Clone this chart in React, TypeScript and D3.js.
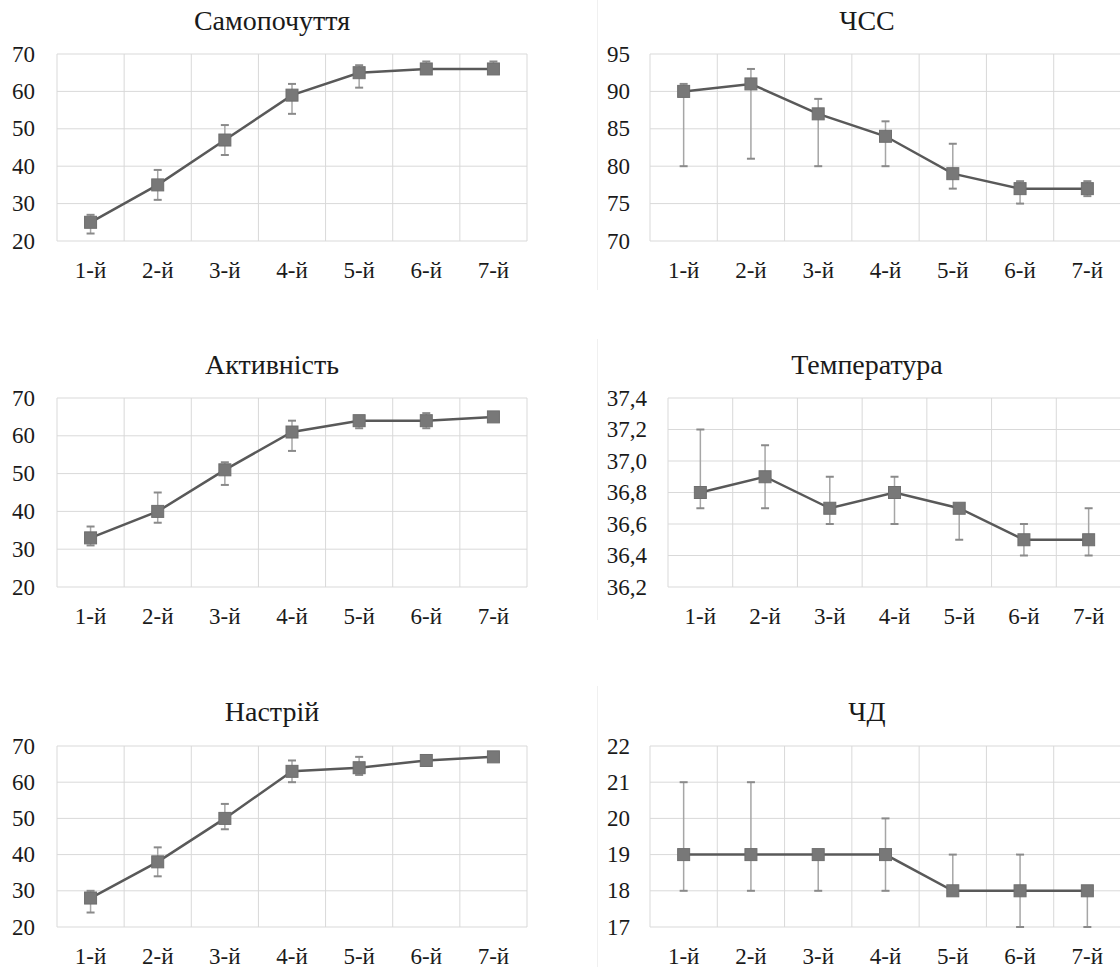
import React from "react";
import * as d3 from "d3";

const categories = ["1-й", "2-й", "3-й", "4-й", "5-й", "6-й", "7-й"];

const samTitle = "Самопочуття";
const samValues = [25, 35, 47, 59, 65, 66, 66];
const samHigh = [27, 39, 51, 62, 67, 68, 68];
const samLow = [22, 31, 43, 54, 61, 65, 65];
const samTicks = [20, 30, 40, 50, 60, 70];

const aktTitle = "Активність";
const aktValues = [33, 40, 51, 61, 64, 64, 65];
const aktHigh = [36, 45, 53, 64, 65, 66, 65];
const aktLow = [31, 37, 47, 56, 62, 62, 65];
const aktTicks = [20, 30, 40, 50, 60, 70];

const nasTitle = "Настрій";
const nasValues = [28, 38, 50, 63, 64, 66, 67];
const nasHigh = [30, 42, 54, 66, 67, 66, 67];
const nasLow = [24, 34, 47, 60, 62, 65, 67];
const nasTicks = [20, 30, 40, 50, 60, 70];

const chssTitle = "ЧСС";
const chssValues = [90, 91, 87, 84, 79, 77, 77];
const chssHigh = [91, 93, 89, 86, 83, 78, 78];
const chssLow = [80, 81, 80, 80, 77, 75, 76];
const chssTicks = [70, 75, 80, 85, 90, 95];

const tempTitle = "Температура";
const tempValues = [36.8, 36.9, 36.7, 36.8, 36.7, 36.5, 36.5];
const tempHigh = [37.2, 37.1, 36.9, 36.9, 36.7, 36.6, 36.7];
const tempLow = [36.7, 36.7, 36.6, 36.6, 36.5, 36.4, 36.4];
const tempTicks = [36.2, 36.4, 36.6, 36.8, 37.0, 37.2, 37.4];

const chdTitle = "ЧД";
const chdValues = [19, 19, 19, 19, 18, 18, 18];
const chdHigh = [21, 21, 19, 20, 19, 19, 18];
const chdLow = [18, 18, 18, 18, 18, 17, 17];
const chdTicks = [17, 18, 19, 20, 21, 22];

const FONT = "Liberation Serif";

type PanelProps = {
  title: string;
  values: number[];
  high: number[];
  low: number[];
  ticks: number[];
  x0: number;
  x1: number;
  y0: number;
  y1: number;
  titleX: number;
  titleY: number;
  labelX: number;
  fmt: (v: number) => string;
};

function Panel(p: PanelProps) {
  const x = d3.scaleBand<string>().domain(categories).range([p.x0, p.x1]).padding(0);
  const y = d3
    .scaleLinear()
    .domain([p.ticks[0], p.ticks[p.ticks.length - 1]])
    .range([p.y1, p.y0]);
  const cx = (i: number) => (x(categories[i]) as number) + x.bandwidth() / 2;
  const line = d3
    .line<number>()
    .x((_, i) => cx(i))
    .y((d) => y(d));
  const grid = "#d9d9d9";
  const ms = 12;
  return (
    <g>
      <text
        x={p.titleX}
        y={p.titleY}
        textAnchor="middle"
        dominantBaseline="central"
        style={{ fontFamily: FONT, fontSize: 28 }}
        fill="#1a1a1a"
      >
        {p.title}
      </text>
      {p.ticks.map((t) => (
        <line key={"h" + t} x1={p.x0} x2={p.x1} y1={y(t)} y2={y(t)} stroke={grid} strokeWidth={1} />
      ))}
      {categories.map((c) => (
        <line
          key={"v" + c}
          x1={x(c) as number}
          x2={x(c) as number}
          y1={p.y0}
          y2={p.y1}
          stroke={grid}
          strokeWidth={1}
        />
      ))}
      <line x1={p.x1} x2={p.x1} y1={p.y0} y2={p.y1} stroke={grid} strokeWidth={1} />
      {p.ticks.map((t) => (
        <text
          key={"t" + t}
          x={p.labelX}
          y={y(t)}
          textAnchor="end"
          dominantBaseline="central"
          style={{ fontFamily: FONT, fontSize: 23 }}
          fill="#1a1a1a"
        >
          {p.fmt(t)}
        </text>
      ))}
      {categories.map((c, i) => (
        <text
          key={"c" + c}
          x={cx(i)}
          y={p.y1 + 29}
          textAnchor="middle"
          dominantBaseline="central"
          style={{ fontFamily: FONT, fontSize: 23 }}
          fill="#1a1a1a"
        >
          {c}
        </text>
      ))}
      {p.values.map((v, i) => (
        <g key={"e" + i}>
          <line x1={cx(i)} x2={cx(i)} y1={y(p.high[i])} y2={y(p.low[i])} stroke="#a6a6a6" strokeWidth={1.5} />
          <line x1={cx(i) - 4} x2={cx(i) + 4} y1={y(p.high[i])} y2={y(p.high[i])} stroke="#8a8a8a" strokeWidth={2} />
          <line x1={cx(i) - 4} x2={cx(i) + 4} y1={y(p.low[i])} y2={y(p.low[i])} stroke="#8a8a8a" strokeWidth={2} />
        </g>
      ))}
      <path d={line(p.values) as string} fill="none" stroke="#595959" strokeWidth={2.5} />
      {p.values.map((v, i) => (
        <rect
          key={"m" + i}
          x={cx(i) - ms / 2}
          y={y(v) - ms / 2}
          width={ms}
          height={ms}
          fill="#787878"
          stroke="#6e6e6e"
          strokeWidth={1}
        />
      ))}
    </g>
  );
}

const intFmt = (v: number) => String(v);
const commaFmt = (v: number) => v.toFixed(1).replace(".", ",");

export default function App() {
  return (
    <div style={{ position: "absolute", left: 0, top: 0 }}>
      <svg width={1120} height={967} style={{ display: "block", background: "#fff", fontFamily: FONT }}>
        <line x1={597.5} x2={597.5} y1={0} y2={290} stroke="#f0f0f0" />
        <line x1={597.5} x2={597.5} y1={339} y2={620} stroke="#f0f0f0" />
        <line x1={597.5} x2={597.5} y1={686} y2={967} stroke="#f0f0f0" />
        <Panel title={samTitle} values={samValues} high={samHigh} low={samLow} ticks={samTicks}
          x0={57} x1={527} y0={54} y1={241} titleX={272} titleY={20} labelX={35} fmt={intFmt} />
        <Panel title={aktTitle} values={aktValues} high={aktHigh} low={aktLow} ticks={aktTicks}
          x0={57} x1={527} y0={398} y1={587} titleX={272} titleY={364} labelX={35} fmt={intFmt} />
        <Panel title={nasTitle} values={nasValues} high={nasHigh} low={nasLow} ticks={nasTicks}
          x0={57} x1={527} y0={746} y1={927} titleX={272} titleY={711} labelX={35} fmt={intFmt} />
        <Panel title={chssTitle} values={chssValues} high={chssHigh} low={chssLow} ticks={chssTicks}
          x0={650} x1={1121} y0={54} y1={241} titleX={867} titleY={20} labelX={630} fmt={intFmt} />
        <Panel title={tempTitle} values={tempValues} high={tempHigh} low={tempLow} ticks={tempTicks}
          x0={668} x1={1121} y0={398} y1={587} titleX={867} titleY={364} labelX={647} fmt={commaFmt} />
        <Panel title={chdTitle} values={chdValues} high={chdHigh} low={chdLow} ticks={chdTicks}
          x0={650} x1={1121} y0={746} y1={927} titleX={867} titleY={711} labelX={630} fmt={intFmt} />
      </svg>
    </div>
  );
}
